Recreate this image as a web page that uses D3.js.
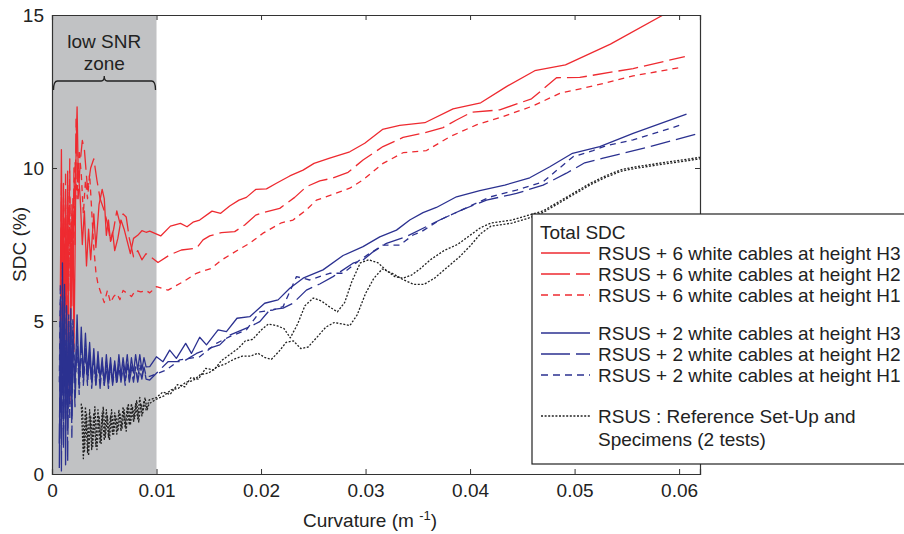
<!DOCTYPE html>
<html>
<head>
<meta charset="utf-8">
<script src="https://cdn.jsdelivr.net/npm/d3@7"></script>
<style>
  body { margin: 0; background: #fff; }
  svg { font-family: "Liberation Sans", Arial, sans-serif; }
</style>
</head>
<body>
<div id="chart"></div>
<script>
// values: [curvature (1/m), SDC (%)]
const xTicks = [0, 0.01, 0.02, 0.03, 0.04, 0.05, 0.06];
const yTicks = [0, 5, 10, 15];
const lowSnrZone = [0, 0.01];

const red6H3 = [
  [0.0008,6.0],[0.0009,10.6],[0.0010,4.5],[0.0011,9.5],[0.0012,3.0],[0.0013,8.8],[0.0014,5.0],[0.0015,9.9],
  [0.0016,3.5],[0.0017,2.3],[0.0018,8.0],[0.0019,5.5],[0.0020,9.0],[0.0021,4.0],[0.0022,7.0],[0.0023,10.5],
  [0.0024,12.0],[0.0025,10.0],[0.0027,9.0],[0.0029,7.5],[0.0031,8.6],[0.0033,6.8],[0.0035,8.0],[0.0037,7.0],
  [0.0040,8.5],[0.0042,7.4],[0.0045,8.8],[0.0048,9.3],[0.0050,9.0],[0.0052,7.8],[0.0054,8.3],[0.0056,7.6],
  [0.0058,7.9],[0.0060,7.3],[0.0063,7.7],[0.0066,8.3],[0.0069,8.0],[0.0072,7.6],[0.0075,7.2],[0.0078,7.7],
  [0.0082,7.8],[0.0086,7.95],[0.0090,7.9],
  [0.00935,7.94],[0.0104,7.78],[0.01133,8.10],[0.01229,8.19],[0.01292,8.08],[0.01349,8.23],[0.01413,8.30],
  [0.01531,8.59],[0.01614,8.52],[0.0170,8.76],[0.01789,8.95],[0.0186,9.04],[0.01949,9.30],[0.02052,9.32],
  [0.02147,9.50],[0.02275,9.74],[0.02402,9.93],[0.02507,10.15],[0.02657,10.32],[0.02849,10.53],[0.02992,10.81],
  [0.03162,11.26],[0.03327,11.39],[0.03567,11.48],[0.03837,11.93],[0.04102,12.13],[0.04348,12.66],[0.04619,13.18],
  [0.04913,13.37],[0.05343,14.05],[0.05847,15.0],[0.0620,15.7]
];

const red6H2 = [
  [0.0008,4.0],[0.0009,9.5],[0.0010,3.2],[0.0011,8.8],[0.0012,5.5],[0.0013,9.8],[0.0014,3.0],[0.0015,9.2],
  [0.0016,6.0],[0.0017,10.3],[0.0018,4.5],[0.0019,8.5],[0.0020,6.5],[0.0021,10.0],[0.0022,7.5],[0.0023,11.6],
  [0.0025,9.0],[0.0027,10.2],[0.0029,10.9],[0.0031,10.6],[0.0034,9.3],[0.0037,10.0],[0.0040,10.3],[0.0043,9.6],
  [0.0046,9.0],[0.0050,8.6],[0.0053,8.2],[0.0056,7.6],[0.0059,8.0],[0.0062,8.6],[0.0065,8.2],[0.0068,8.5],
  [0.0071,8.4],[0.0074,7.7],[0.0078,7.1],[0.0082,7.3],[0.0086,7.0],[0.0090,7.2],
  [0.00935,7.12],[0.01014,6.91],[0.01126,7.16],[0.01238,7.32],[0.01382,7.38],[0.01445,7.65],[0.01509,7.78],
  [0.01621,7.89],[0.01748,7.92],[0.01844,8.14],[0.01949,8.46],[0.02019,8.54],[0.02179,8.68],[0.02322,9.04],
  [0.02434,9.39],[0.02562,9.58],[0.02674,9.66],[0.02833,9.86],[0.02976,10.26],[0.03167,10.70],[0.03359,11.00],
  [0.03567,11.15],[0.03742,11.32],[0.03870,11.57],[0.04013,11.82],[0.04284,11.90],[0.04588,12.26],[0.04827,12.95],
  [0.05050,12.96],[0.05560,13.25],[0.06055,13.64]
];

const red6H1 = [
  [0.0008,5.0],[0.0009,8.0],[0.0010,3.5],[0.0011,9.0],[0.0012,6.0],[0.0013,8.2],[0.0014,4.5],[0.0015,9.5],
  [0.0016,6.5],[0.0017,9.0],[0.0018,5.5],[0.0019,8.8],[0.0020,7.0],[0.0022,10.2],[0.0024,9.0],[0.0026,10.6],
  [0.0028,9.8],[0.0030,8.5],[0.0032,9.6],[0.0034,9.0],[0.0036,9.8],[0.0038,8.6],[0.0040,7.4],[0.0042,6.6],
  [0.0044,6.2],[0.0047,5.9],[0.0050,5.6],[0.0053,6.0],[0.0056,5.6],[0.0059,5.8],[0.0062,5.9],[0.0065,5.7],
  [0.0068,6.0],[0.0072,5.9],[0.0076,5.8],[0.0080,6.0],[0.0085,5.95],[0.0090,6.0],
  [0.00935,5.92],[0.00999,6.12],[0.01110,6.01],[0.01254,6.28],[0.01382,6.56],[0.01525,6.72],[0.01621,6.99],
  [0.01780,7.32],[0.01892,7.54],[0.02019,7.87],[0.02195,8.21],[0.02306,8.30],[0.02434,8.63],[0.02530,8.95],
  [0.02674,9.12],[0.02849,9.34],[0.02976,9.61],[0.03167,10.15],[0.03359,10.50],[0.03583,10.57],[0.03806,11.02],
  [0.04061,11.41],[0.04316,11.68],[0.04603,12.03],[0.04858,12.44],[0.05177,12.68],[0.05560,13.01],[0.06007,13.28]
];

const blue2H3 = [
  [0.0007,0.2],[0.0008,5.6],[0.0009,1.0],[0.0010,6.9],[0.0011,2.0],[0.0012,6.2],[0.0013,0.3],[0.0014,5.5],
  [0.0015,1.5],[0.0016,5.0],[0.0017,2.3],[0.0018,5.4],[0.0019,1.9],[0.0020,4.8],[0.0022,2.8],[0.0024,5.2],
  [0.0026,3.0],[0.0028,4.8],[0.0030,3.2],[0.0032,4.6],[0.0034,3.3],[0.0036,4.3],[0.0038,3.1],[0.0040,4.1],
  [0.0042,3.0],[0.0044,4.0],[0.0046,3.1],[0.0048,3.8],[0.0050,2.9],[0.0052,3.9],[0.0054,3.1],[0.0056,3.8],
  [0.0058,3.0],[0.0060,3.7],[0.0062,3.1],[0.0064,3.9],[0.0066,3.2],[0.0068,3.8],[0.0070,3.3],[0.0072,3.9],
  [0.0074,3.2],[0.0076,3.8],[0.0078,3.3],[0.0080,3.9],[0.0082,3.4],[0.0084,3.9],[0.0086,3.4],[0.0088,3.8],
  [0.0090,3.5],
  [0.00935,3.51],[0.00999,3.83],[0.01062,3.67],[0.01126,4.05],[0.01190,3.78],[0.01279,4.27],[0.01334,3.94],
  [0.01413,4.47],[0.01478,4.22],[0.01589,4.71],[0.01669,4.65],[0.01770,5.09],[0.01892,5.14],[0.02035,5.58],
  [0.02163,5.69],[0.02275,6.07],[0.02402,6.40],[0.02593,6.67],[0.02785,7.14],[0.02976,7.43],[0.03136,7.75],
  [0.03296,7.97],[0.03423,8.30],[0.03550,8.54],[0.03678,8.71],[0.03870,9.06],[0.04093,9.26],[0.04332,9.44],
  [0.04571,9.68],[0.04763,10.04],[0.04980,10.48],[0.05241,10.70],[0.05560,11.13],[0.06071,11.76]
];

const blue2H2 = [
  [0.0007,1.0],[0.0008,4.8],[0.0009,0.1],[0.0010,5.9],[0.0011,0.8],[0.0012,5.2],[0.0013,1.8],[0.0014,4.9],
  [0.0015,0.4],[0.0016,4.5],[0.0017,2.6],[0.0018,5.0],[0.0019,1.2],[0.0020,4.4],[0.0022,2.2],[0.0024,4.6],
  [0.0026,2.8],[0.0028,4.3],[0.0030,2.9],[0.0032,4.1],[0.0034,3.0],[0.0036,3.9],[0.0038,2.8],[0.0040,3.8],
  [0.0042,2.9],[0.0044,3.7],[0.0046,2.8],[0.0048,3.6],[0.0050,2.9],[0.0052,3.5],[0.0054,2.8],[0.0056,3.6],
  [0.0058,2.9],[0.0060,3.5],[0.0062,2.9],[0.0064,3.6],[0.0066,3.0],[0.0068,3.5],[0.0070,2.9],[0.0072,3.6],
  [0.0074,3.0],[0.0076,3.4],[0.0078,3.0],[0.0080,3.5],[0.0082,3.0],[0.0084,3.4],[0.0086,3.1],[0.0088,3.5],
  [0.0090,3.1],
  [0.00935,3.07],[0.00999,3.29],[0.01110,3.67],[0.01254,3.67],[0.01382,3.94],[0.01509,4.11],[0.01605,4.22],
  [0.01700,4.54],[0.01892,4.81],[0.01988,4.98],[0.02083,5.36],[0.02211,5.42],[0.02306,5.58],[0.02434,6.01],
  [0.02562,6.21],[0.02689,6.45],[0.02880,6.89],[0.02976,6.99],[0.03072,7.26],[0.03200,7.54],[0.03391,7.76],
  [0.03710,8.30],[0.03933,8.65],[0.04157,8.95],[0.04444,9.17],[0.04699,9.44],[0.04922,9.83],[0.05097,10.17],
  [0.05273,10.32],[0.05720,10.70],[0.06166,11.11]
];

const blue2H1 = [
  [0.0007,3.0],[0.0008,6.2],[0.0009,2.2],[0.0010,5.0],[0.0011,1.4],[0.0012,5.8],[0.0013,2.8],[0.0014,4.4],
  [0.0015,2.0],[0.0016,5.2],[0.0017,1.8],[0.0018,4.6],[0.0019,2.7],[0.0020,5.1],[0.0022,3.0],[0.0024,4.4],
  [0.0026,2.6],[0.0028,4.2],[0.0030,3.0],[0.0032,3.9],[0.0034,2.9],[0.0036,4.0],[0.0038,3.0],[0.0040,3.7],
  [0.0042,2.9],[0.0044,3.8],[0.0046,3.0],[0.0048,3.6],[0.0050,3.0],[0.0052,3.7],[0.0054,2.9],[0.0056,3.5],
  [0.0058,3.0],[0.0060,3.6],[0.0062,3.0],[0.0064,3.5],[0.0066,3.1],[0.0068,3.6],[0.0070,3.0],[0.0072,3.5],
  [0.0074,3.1],[0.0076,3.6],[0.0078,3.1],[0.0080,3.5],[0.0082,3.1],[0.0084,3.6],[0.0086,3.2],[0.0088,3.5],
  [0.0090,3.2],
  [0.00935,3.19],[0.01095,3.40],[0.01222,3.73],[0.01413,3.83],[0.01573,4.27],[0.01700,4.49],[0.01860,4.71],
  [0.01988,5.30],[0.02115,5.36],[0.02211,5.47],[0.02339,6.45],[0.02466,6.34],[0.02657,6.56],[0.02785,6.56],
  [0.02944,6.99],[0.03040,7.21],[0.03167,7.48],[0.03327,7.48],[0.03455,7.81],[0.03535,7.92],[0.03710,8.30],
  [0.03933,8.65],[0.04189,9.05],[0.04444,9.28],[0.04699,9.55],[0.04986,10.37],[0.05177,10.57],[0.05305,10.73],
  [0.05560,10.92],[0.06039,11.43]
];

const refTest1 = [
  [0.0028,2.3],[0.0030,0.5],[0.0032,2.2],[0.0034,0.7],[0.0036,2.1],[0.0038,0.8],[0.0040,2.0],[0.0042,0.9],
  [0.0044,2.1],[0.0046,1.0],[0.0048,2.0],[0.0050,1.1],[0.0052,2.1],[0.0054,1.2],[0.0056,1.9],[0.0058,1.3],
  [0.0060,2.0],[0.0062,1.3],[0.0064,2.1],[0.0066,1.4],[0.0068,2.2],[0.0070,1.5],[0.0072,2.2],[0.0074,1.6],
  [0.0076,2.3],[0.0078,1.7],[0.0080,2.3],[0.0082,1.8],[0.0084,2.5],[0.0086,1.9],[0.0088,2.4],[0.0090,2.1],
  [0.0093,2.42],[0.0100,2.5],[0.0106,2.68],[0.0113,2.6],[0.0120,2.92],[0.0127,2.85],[0.0133,3.15],[0.0140,3.1],
  [0.0147,3.45],[0.0155,3.4],[0.0162,3.7],[0.0170,3.9],[0.0178,4.1],[0.0185,4.35],[0.0192,4.4],[0.0200,4.7],
  [0.0207,4.9],[0.0215,4.85],[0.0222,4.75],[0.0228,4.45],[0.0235,4.9],[0.0242,5.5],[0.0250,5.75],[0.0258,5.65],
  [0.0266,5.45],[0.0273,5.3],[0.0280,5.6],[0.0287,6.3],[0.0295,6.9],[0.0303,7.0],[0.0312,6.9],[0.0320,6.65],
  [0.0328,6.45],[0.0336,6.4],[0.0344,6.5],[0.0352,6.7],[0.0362,7.0],[0.0375,7.3],[0.0388,7.5],[0.0400,7.8],
  [0.0410,8.05],[0.0420,8.2],[0.0440,8.3],[0.0455,8.45],[0.0470,8.6],[0.0485,8.9],[0.0500,9.2],[0.0515,9.5],
  [0.0530,9.75],[0.0545,9.95],[0.0560,10.05],[0.0580,10.15],[0.0600,10.25],[0.0620,10.35]
];

const refTest2 = [
  [0.0029,2.2],[0.0031,0.7],[0.0033,2.0],[0.0035,0.6],[0.0037,1.9],[0.0039,0.9],[0.0041,2.2],[0.0043,0.8],
  [0.0045,1.9],[0.0047,1.0],[0.0049,2.2],[0.0051,1.2],[0.0053,1.9],[0.0055,1.1],[0.0057,2.1],[0.0059,1.3],
  [0.0061,1.9],[0.0063,1.4],[0.0065,2.0],[0.0067,1.5],[0.0069,2.1],[0.0071,1.4],[0.0073,2.3],[0.0075,1.6],
  [0.0077,2.2],[0.0079,1.8],[0.0081,2.4],[0.0083,1.7],[0.0085,2.3],[0.0087,2.0],[0.0089,2.5],[0.0091,2.1],
  [0.0093,2.3],[0.0100,2.45],[0.0107,2.55],[0.0114,2.75],[0.0121,2.8],[0.0128,3.0],[0.0135,3.05],[0.0142,3.25],
  [0.0150,3.3],[0.0158,3.5],[0.0166,3.6],[0.0174,3.75],[0.0182,3.85],[0.0190,3.85],[0.0197,3.95],[0.0204,3.8],
  [0.0210,3.75],[0.0217,4.0],[0.0224,4.3],[0.0231,4.35],[0.0238,4.1],[0.0245,4.15],[0.0253,4.45],[0.0262,4.8],
  [0.0270,4.95],[0.0278,4.9],[0.0285,4.85],[0.0292,5.2],[0.0300,5.9],[0.0308,6.4],[0.0316,6.7],[0.0326,6.55],
  [0.0336,6.35],[0.0346,6.2],[0.0356,6.2],[0.0366,6.4],[0.0378,6.75],[0.0390,7.1],[0.0400,7.45],[0.0410,7.85],
  [0.0420,8.1],[0.0440,8.2],[0.0455,8.35],[0.0470,8.55],[0.0485,8.85],[0.0500,9.15],[0.0515,9.45],[0.0530,9.7],
  [0.0545,9.9],[0.0560,10.0],[0.0580,10.1],[0.0600,10.2],[0.0620,10.3]
];

const legendLabels = [
  "RSUS + 6 white cables at height H3",
  "RSUS + 6 white cables at height H2",
  "RSUS + 6 white cables at height H1",
  "RSUS + 2 white cables at height H3",
  "RSUS + 2 white cables at height H2",
  "RSUS + 2 white cables at height H1",
  "RSUS : Reference Set-Up and"
];

const red = "#ee2a30", blue = "#2b3190", black = "#222";
const solid = null, longDash = "20,6", shortDash = "6,5", dotted = "2,1.6";

const series = [
  { data: refTest1, color: black, dash: dotted },
  { data: refTest2, color: black, dash: dotted },
  { data: red6H1, color: red, dash: shortDash },
  { data: red6H2, color: red, dash: longDash },
  { data: red6H3, color: red, dash: solid },
  { data: blue2H1, color: blue, dash: shortDash },
  { data: blue2H2, color: blue, dash: longDash },
  { data: blue2H3, color: blue, dash: solid }
];

const width = 904, height = 534;
const margin = { top: 15, right: 204, bottom: 60, left: 52 };

const svg = d3.select("#chart").append("svg")
  .attr("width", width)
  .attr("height", height);

const x = d3.scaleLinear().domain([0, 0.062]).range([margin.left, width - margin.right]);
const y = d3.scaleLinear().domain([0, 15]).range([height - margin.bottom, margin.top]);

svg.append("clipPath").attr("id", "plot-clip")
  .append("rect")
  .attr("x", x(0)).attr("y", y(15))
  .attr("width", x(0.062) - x(0)).attr("height", y(0) - y(15));

// grey low SNR band
svg.append("rect")
  .attr("x", x(lowSnrZone[0]))
  .attr("y", y(15))
  .attr("width", x(lowSnrZone[1]) - x(lowSnrZone[0]))
  .attr("height", y(0) - y(15))
  .attr("fill", "#c1c2c4");

svg.append("text")
  .attr("x", x(0.005)).attr("y", 48)
  .attr("text-anchor", "middle")
  .style("font-size", "19px").attr("fill", "#222")
  .text("low SNR");
svg.append("text")
  .attr("x", x(0.005)).attr("y", 70)
  .attr("text-anchor", "middle")
  .style("font-size", "19px").attr("fill", "#222")
  .text("zone");

// curly brace under the label
const bx0 = x(0) + 1.5, bx1 = x(0.01) - 1, bm = x(0.005), by = 81;
svg.append("path")
  .attr("d", `M${bx0},${by + 9} Q${bx0},${by} ${bx0 + 4},${by}
              L${bm - 3},${by} Q${bm},${by} ${bm},${by - 5}
              Q${bm},${by} ${bm + 3},${by}
              L${bx1 - 4},${by} Q${bx1},${by} ${bx1},${by + 9}`)
  .attr("fill", "none")
  .attr("stroke", "#222")
  .attr("stroke-width", 1.3);

const line = d3.line().x(d => x(d[0])).y(d => y(d[1]));

svg.append("g")
  .attr("clip-path", "url(#plot-clip)")
  .selectAll("path")
  .data(series)
  .enter().append("path")
  .attr("d", d => line(d.data))
  .attr("fill", "none")
  .attr("stroke", d => d.color)
  .attr("stroke-width", 1.3)
  .attr("stroke-dasharray", d => d.dash)
  .attr("stroke-linejoin", "round");

// axes box, matlab style ticks inward on all four sides
const axisColor = "#333";
const xAxis = svg.append("g")
  .attr("transform", `translate(0,${y(0)})`)
  .call(d3.axisBottom(x).tickValues(xTicks).tickSize(-5).tickPadding(10).tickFormat(d => d === 0 ? "0" : d3.format(".2f")(d)));
const xTop = svg.append("g")
  .attr("transform", `translate(0,${y(15)})`)
  .call(d3.axisTop(x).tickValues(xTicks).tickSize(-5).tickFormat(""));
const yAxis = svg.append("g")
  .attr("transform", `translate(${x(0)},0)`)
  .call(d3.axisLeft(y).tickValues(yTicks).tickSize(-5).tickPadding(8));
const yRight = svg.append("g")
  .attr("transform", `translate(${x(0.062)},0)`)
  .call(d3.axisRight(y).tickValues(yTicks).tickSize(-5).tickFormat(""));

[xAxis, xTop, yAxis, yRight].forEach(g => {
  g.select(".domain").attr("stroke", axisColor).attr("stroke-width", 1.2);
  g.selectAll(".tick line").attr("stroke", axisColor);
  g.selectAll("text")
    .style("font-family", "'Liberation Sans', Arial, sans-serif")
    .style("font-size", "19px")
    .attr("fill", "#222");
});

// axis titles
svg.append("text")
  .attr("transform", `translate(26,${y(7.5)}) rotate(-90)`)
  .attr("text-anchor", "middle")
  .style("font-size", "19px").attr("fill", "#222")
  .text("SDC (%)");

const xl = svg.append("text")
  .attr("x", 370).attr("y", 527)
  .attr("text-anchor", "middle")
  .style("font-size", "19px").attr("fill", "#222");
xl.append("tspan").text("Curvature (m ");
xl.append("tspan").attr("dy", -7).style("font-size", "13px").text("-1");
xl.append("tspan").attr("dy", 7).text(")");

// legend (box runs off the right edge as in the figure, text kept inside)
const lg = svg.append("g");
lg.append("rect")
  .attr("x", 532).attr("y", 214)
  .attr("width", 400).attr("height", 250)
  .attr("fill", "#fff")
  .attr("stroke", "#222")
  .attr("stroke-width", 1.2);

lg.append("text")
  .attr("x", 540).attr("y", 239)
  .style("font-size", "19px").attr("fill", "#222")
  .text("Total SDC");

const legendRows = [
  { cy: 253, color: red, dash: solid },
  { cy: 274, color: red, dash: "29,6" },
  { cy: 295, color: red, dash: "7,5" },
  { cy: 333, color: blue, dash: solid },
  { cy: 354, color: blue, dash: "29,6" },
  { cy: 375, color: blue, dash: "7,5" },
  { cy: 416, color: black, dash: "2,1.6" }
];

legendRows.forEach((r, i) => {
  lg.append("line")
    .attr("x1", 541).attr("x2", 590)
    .attr("y1", r.cy).attr("y2", r.cy)
    .attr("stroke", r.color)
    .attr("stroke-width", 1.3)
    .attr("stroke-dasharray", r.dash);
  lg.append("text")
    .attr("x", 598).attr("y", r.cy + 7)
    .style("font-size", "19px").attr("fill", "#222")
    .text(legendLabels[i]);
});
lg.append("text")
  .attr("x", 598).attr("y", 446)
  .style("font-size", "19px").attr("fill", "#222")
  .text("Specimens (2 tests)");
</script>
</body>
</html>
